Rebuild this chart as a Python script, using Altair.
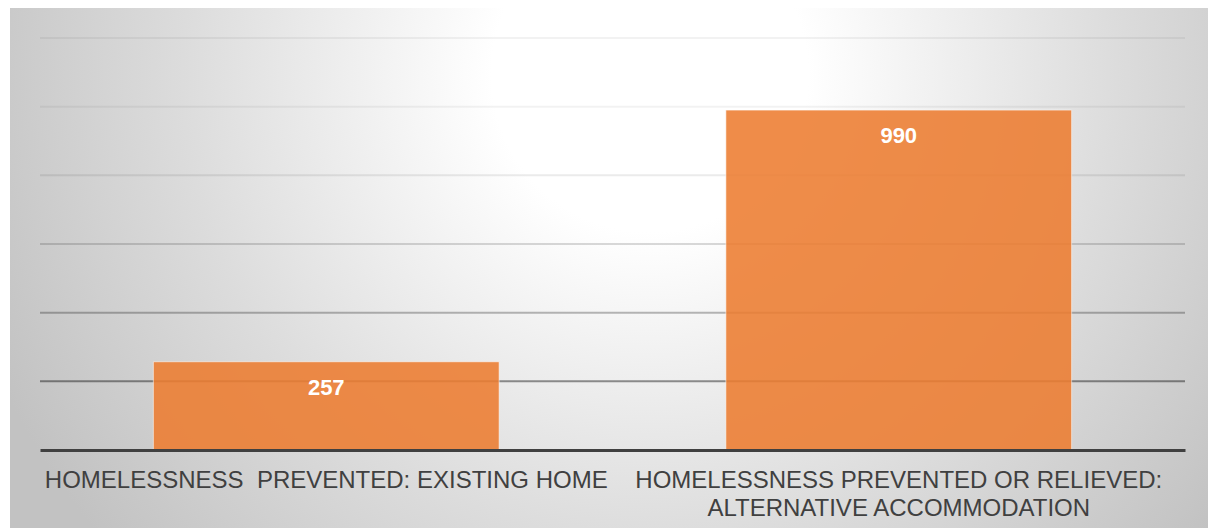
import altair as alt
import pandas as pd

categories = [
    "HOMELESSNESS\u00a0 PREVENTED: EXISTING HOME",
    "HOMELESSNESS PREVENTED OR RELIEVED:\nALTERNATIVE ACCOMMODATION",
]
values = [257, 990]
grid_values = [200, 400, 600, 800, 1000, 1200]

df = pd.DataFrame({"category": categories, "value": values})
grid_df = pd.DataFrame({"v": grid_values})

W, H = 1145, 412

bg = alt.Chart(alt.Data(values=[{}])).mark_rect(
    fill=alt.RadialGradient(
        gradient="radial",
        stops=[
            alt.GradientStop(color="#ffffff", offset=0),
            alt.GradientStop(color="#ffffff", offset=0.22),
            alt.GradientStop(color="#dcdcdc", offset=0.65),
            alt.GradientStop(color="#c2c2c2", offset=1),
        ],
        x1=0.534, y1=0.055, r1=0,
        x2=0.534, y2=0.055, r2=0.6,
    ),
    strokeWidth=0,
).encode(
    x=alt.value(-30), x2=alt.value(W + 23),
    y=alt.value(-30), y2=alt.value(-30 + 1198),
)

yscale = alt.Scale(domain=[0, 1200], nice=False)

grid = alt.Chart(grid_df).mark_rule(color="black", strokeWidth=2).encode(
    x=alt.value(0), x2=alt.value(W),
    y=alt.Y("v:Q", scale=yscale, axis=None),
    opacity=alt.Opacity("v:Q", scale=alt.Scale(domain=grid_values,
                        range=[0.42, 0.27, 0.15, 0.08, 0.05, 0.05]), legend=None),
)

xenc = alt.X(
    "category:N", sort=categories,
    scale=alt.Scale(paddingInner=0.396, paddingOuter=0.198),
    axis=alt.Axis(
        title=None, labelAngle=0, labelFontSize=24, labelFont="Liberation Sans",
        labelColor="#404040", labelLineHeight=28, labelPadding=18,
        ticks=False, tickSize=0, domainColor="#404040", domainWidth=3,
        labelExpr="split(datum.label, '\\n')", labelLimit=1000,
        labelOverlap=False, grid=False, zindex=1,
    ),
)

bars = alt.Chart(df).mark_bar(
    color="#ED7D31", opacity=0.88, stroke="white", strokeOpacity=0.6, strokeWidth=1
).encode(
    x=xenc,
    y=alt.Y("value:Q", scale=yscale, axis=None),
)

labels = alt.Chart(df).mark_text(
    color="white", fontWeight="bold", fontSize=22, font="Liberation Sans",
    baseline="alphabetic", dy=33,
).encode(
    x=alt.X("category:N", sort=categories),
    y=alt.Y("value:Q", scale=yscale),
    text=alt.Text("value:Q"),
)

chart = alt.layer(bg, grid, bars, labels).properties(
    width=W, height=H,
    autosize=alt.AutoSizeParams(type="none"),
    padding={"left": 40, "top": 38, "right": 23, "bottom": 78},
    background="white",
).configure_view(strokeWidth=0)

chart.save("out.html", embed_options={"renderer": "svg", "actions": False})
